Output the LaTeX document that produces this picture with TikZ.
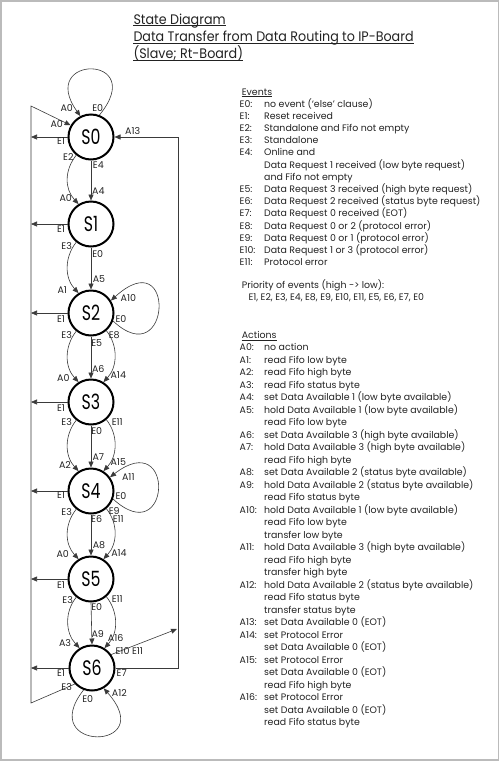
\documentclass[tikz,border=0pt]{standalone}
\usepackage{fontspec}
\setmainfont{Poppins}
\newfontfamily\statefont{Poppins}[FakeStretch=0.75]
\newfontfamily\titlefont{Poppins}[FakeStretch=0.92]
\usetikzlibrary{arrows.meta}
\definecolor{ink}{HTML}{222222}
\definecolor{linec}{HTML}{3A3A3A}
\definecolor{framec}{HTML}{BBBBBB}
\begin{document}
\begin{tikzpicture}[x=1pt,y=-1pt,
  state/.style={circle,draw=black,line width=2pt,minimum size=45pt,inner sep=0pt,font=\statefont\fontsize{21}{21}\selectfont},
  lbl/.style={font=\fontsize{9.5}{10}\selectfont,text=ink,inner sep=0pt},
  conn/.style={draw=linec,line width=0.6pt},
  arr/.style={conn,-{Triangle[length=6pt,width=5pt]}},
  txt/.style={font=\fontsize{9.4}{10}\selectfont,text=ink,anchor=base west,inner sep=0pt},
  ttl/.style={font=\titlefont\fontsize{13.8}{15}\selectfont,text=ink,anchor=base west,inner sep=0pt},
  uline/.style={draw=ink,line width=0.6pt}
]
\useasboundingbox (0,0) rectangle (500,761);
\draw[framec,line width=1.5pt] (0.75,0.75) rectangle (498.5,760);

% title
\node[ttl] (t1) at (133.3,24.3) {State Diagram};
\node[ttl] (t2) at (133.3,41.5) {Data Transfer from Data Routing to IP-Board};
\node[ttl] (t3) at (133.3,58.5) {(Slave; Rt-Board)};
\foreach \n in {t1,t2,t3}
  \draw[uline,line width=0.9pt] ([yshift=-1.6pt]\n.base west) -- ([yshift=-1.6pt]\n.base east);

% states
\node[state] (S0) at (91,137) {S0};
\node[state] (S1) at (91,224) {S1};
\node[state] (S2) at (91,313) {S2};
\node[state] (S3) at (91,402) {S3};
\node[state] (S4) at (91,491) {S4};
\node[state] (S5) at (91,579) {S5};
\node[state] (S6) at (92,668) {S6};

\coordinate (LT) at (31,106);
\coordinate (LB) at (31,703);
\coordinate (RT) at (178,137);
\coordinate (RB) at (178,668);
\coordinate (ET) at (177,629);

% reset lines
\foreach \s in {S0,S1,S2,S3,S4,S5,S6}
  \draw[arr] (\s.west) -- (\s.west -| LT);
\draw[arr] (S6.223) -- (LB) -- (LT) -- (S0.150);
\draw[arr] (S6.east) -- (RB) -- (RT) -- (S0.east);
\draw[arr] (S6.35) -- (ET);

% straight transitions
\foreach \a/\b in {S0/S1,S1/S2,S2/S3,S3/S4,S4/S5,S5/S6}
  \draw[arr] (\a.south) -- (\b.north);
% left curves
\foreach \a/\b in {S0/S1,S1/S2,S2/S3,S3/S4,S4/S5,S5/S6}
  \draw[arr] (\a.231) .. controls +(-12,15) and +(-14,-15) .. (\b.122);
% right curves
\foreach \a/\b in {S2/S3,S3/S4,S4/S5,S5/S6}
  \draw[arr] (\a.-49) .. controls +(12,15) and +(14,-15) .. (\b.58);

% self loops
\draw[arr] (S0.69) .. controls +(50,-61) and +(-44,-62) .. (S0.117);
\draw[arr] (S2.-20) .. controls +(58,54) and +(66,-60) .. (S2.32);
\draw[arr] (S4.-20) .. controls +(58,53) and +(66,-51) .. (S4.36);
\draw[arr] (S6.249) .. controls +(-48.6,62.1) and +(56.25,63.6) .. (S6.300);

% labels
\foreach \t/\x/\y [count=\i] in {
  A0/66.7/108.3, E0/97.7/107.7, A0/56.7/124.3, E1/61/141, A13/132.7/131,
  E2/68.3/157.3, E4/98.3/165, A4/98.3/190.7, A0/65.7/198.3,
  E1/61/229.3, E3/66.7/245.7, E0/97.7/254, A5/99/279, A1/62.3/290,
  A10/128.3/298.3, E0/121/319, E1/61/319, E3/66.7/335, E5/96.7/343.3, E8/114.3/335,
  A0/63.3/377.7, A6/98.3/369, A14/118.3/375, E1/61/407.7, E3/66.7/422.3, E0/96.7/431, E11/117.3/421.7,
  A2/65/465, A7/98.3/457.3, A15/118.3/462.3, A11/128.3/476.7, E1/61/495, E0/121/495.7,
  E3/66.7/512.3, E6/96.7/519.3, E9/114.3/510.7, E11/118.3/519.3,
  A0/62.7/554, A8/99/545, A14/119/552.7, E1/61/585, E3/67.7/600, E0/96.7/606.7, E11/117.3/599.3,
  A3/65/642.7, A9/97.7/634, A16/115.7/638.3, {E10 E11}/129.3/650.7, E1/61/672.7, E7/121.7/672.7,
  E3/66.7/686.7, E0/87.7/699, A12/119.3/692.7}
  \node[lbl] (lab\i) at (\x,\y) {\t};

% events
\node[txt] (evh) at (241.7,95) {Events};
\draw[uline] ([yshift=-1.5pt]evh.base west) -- ([yshift=-1.5pt]evh.base east);
\foreach \l/\d [count=\i from 0] in {
  E0:/{no event (`else' clause)}, E1:/{Reset received}, E2:/{Standalone and Fifo not empty},
  E3:/{Standalone}, E4:/{Online and}, {}/{Data Request 1 received (low byte request)},
  {}/{and Fifo not empty}, E5:/{Data Request 3 received (high byte request)},
  E6:/{Data Request 2 received (status byte request)}, E7:/{Data Request 0 received (EOT)},
  E8:/{Data Request 0 or 2 (protocol error)}, E9:/{Data Request 0 or 1 (protocol error)},
  E10:/{Data Request 1 or 3 (protocol error)}, E11:/{Protocol error}}
{
  \node[txt] (evl\i) at (239.5,107+12.2*\i) {\l};
  \node[txt] (evd\i) at (264,107+12.2*\i) {\d};
}
\node[txt] (pr1) at (241.7,288) {Priority of events (high -> low):};
\node[txt] (pr2) at (248.3,300.2) {E1, E2, E3, E4, E8, E9, E10, E11, E5, E6, E7, E0};

% actions
\node[txt] (ach) at (241.7,338.4) {Actions};
\draw[uline] ([yshift=-1.5pt]ach.base west) -- ([yshift=-1.5pt]ach.base east);
\foreach \l/\d [count=\i from 0] in {
  A0:/{no action}, A1:/{read Fifo low byte}, A2:/{read Fifo high byte}, A3:/{read Fifo status byte},
  A4:/{set Data Available 1 (low byte available)}, A5:/{hold Data Available 1 (low byte available)},
  {}/{read Fifo low byte}, A6:/{set Data Available 3 (high byte available)},
  A7:/{hold Data Available 3 (high byte available)}, {}/{read Fifo high byte},
  A8:/{set Data Available 2 (status byte available)}, A9:/{hold Data Available 2 (status byte available)},
  {}/{read Fifo status byte}, A10:/{hold Data Available 1 (low byte available)},
  {}/{read Fifo low byte}, {}/{transfer low byte},
  A11:/{hold Data Available 3 (high byte available)}, {}/{read Fifo high byte}, {}/{transfer high byte},
  A12:/{hold Data Available 2 (status byte available)}, {}/{read Fifo status byte}, {}/{transfer status byte},
  A13:/{set Data Available 0 (EOT)}, A14:/{set Protocol Error}, {}/{set Data Available 0 (EOT)},
  A15:/{set Protocol Error}, {}/{set Data Available 0 (EOT)}, {}/{read Fifo high byte},
  A16:/{set Protocol Error}, {}/{set Data Available 0 (EOT)}, {}/{read Fifo status byte}}
{
  \node[txt] (acl\i) at (239.5,350.8+12.5*\i) {\l};
  \node[txt] (acd\i) at (264,350.8+12.5*\i) {\d};
}
\end{tikzpicture}
\end{document}
